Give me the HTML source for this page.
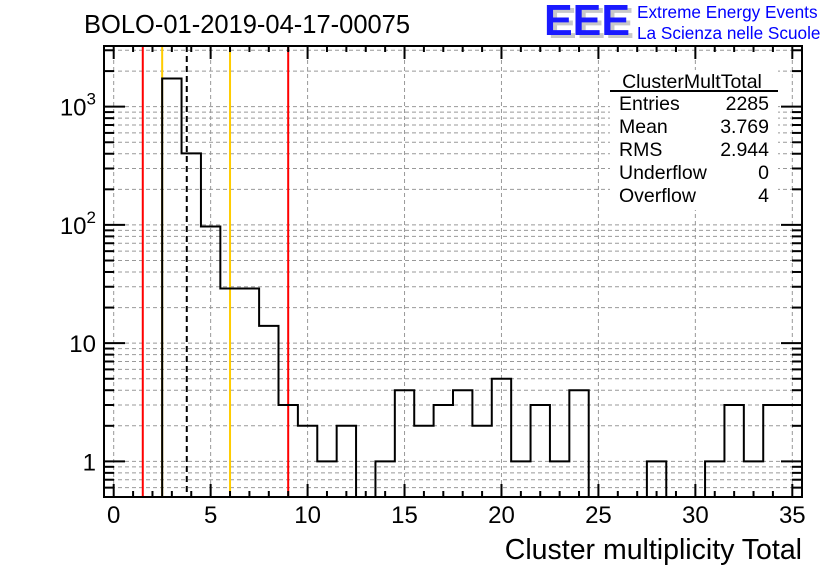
<!DOCTYPE html>
<html><head><meta charset="utf-8"><style>
html,body{margin:0;padding:0;background:#fff;}
svg{display:block;font-family:"Liberation Sans",sans-serif;}
</style></head><body>
<svg id="chart" width="836" height="572" viewBox="0 0 836 572">
<rect width="836" height="572" fill="#fff"/>
<g id="grid"></g>
<g id="vlines"></g>
<g id="hist"></g>
<g id="axes"></g>
<text x="84" y="33" font-size="25.5">BOLO-01-2019-04-17-00075</text>
<g>
<text x="548" y="38" font-size="44" font-weight="bold" fill="#c8c8c8" textLength="86" lengthAdjust="spacingAndGlyphs">EEE</text>
<text x="544" y="35" font-size="44" font-weight="bold" fill="#1a1aff" textLength="86" lengthAdjust="spacingAndGlyphs">EEE</text>
<text x="637" y="18" font-size="17.2" fill="#0000ff">Extreme Energy Events</text>
<text x="637" y="39" font-size="17.2" fill="#0000ff">La Scienza nelle Scuole</text>
</g>
<g font-size="19.5">
<rect x="610" y="70" width="168" height="140" fill="#fff"/>
<text x="692" y="88" text-anchor="middle">ClusterMultTotal</text>
<line x1="610" y1="91" x2="778" y2="91" stroke="#000" stroke-width="2"/>
<text x="619" y="110">Entries</text><text x="769" y="110" text-anchor="end">2285</text>
<text x="619" y="133">Mean</text><text x="769" y="133" text-anchor="end">3.769</text>
<text x="619" y="156">RMS</text><text x="769" y="156" text-anchor="end">2.944</text>
<text x="619" y="179">Underflow</text><text x="769" y="179" text-anchor="end">0</text>
<text x="619" y="202">Overflow</text><text x="769" y="202" text-anchor="end">4</text>
</g>
<text x="802" y="559" font-size="28.5" text-anchor="end">Cluster multiplicity Total</text>
</svg>
<script>
const binCenters = [0,1,2,3,4,5,6,7,8,9,10,11,12,13,14,15,16,17,18,19,20,21,22,23,24,25,26,27,28,29,30,31,32,33,34,35];
const counts = [0,0,0,1730,403,97,29,29,14,3,2,1,2,0,1,4,2,3,4,2,5,1,3,1,4,0,0,0,1,0,0,1,3,1,3,3];
const xTicks = [0,5,10,15,20,25,30,35];
const yDecades = [1,10,100,1000];
const yDecadeLabels = ["1","10","10^2","10^3"];
const redLines = [1.5,9];
const yellowLines = [2.5,6];
const meanValue = 3.769;

const L=104,R=802,T=46,B=497;
const xMin=-0.5,xMax=35.5,yMin=0.5,yMax=3260;
const NS="http://www.w3.org/2000/svg";
function X(v){return L+(v-xMin)/(xMax-xMin)*(R-L);}
function Y(v){const lv=Math.log10(Math.max(v,yMin));return B-(lv-Math.log10(yMin))/(Math.log10(yMax)-Math.log10(yMin))*(B-T);}
function mk(tag,attrs,parent){const e=document.createElementNS(NS,tag);for(const k in attrs)e.setAttribute(k,attrs[k]);parent.appendChild(e);return e;}
const grid=document.getElementById('grid'),vl=document.getElementById('vlines'),hist=document.getElementById('hist'),axes=document.getElementById('axes');

const yMinor=[];
for(let d=0.1;d<=1000;d*=10){for(let m=1;m<=9;m++){const v=Math.round(d*m*1000)/1000;if(v>=yMin&&v<=yMax)yMinor.push(v);}}
yMinor.forEach(v=>{
  const l=mk('line',{x1:L,x2:R,y1:Y(v),y2:Y(v),stroke:'#999','stroke-dasharray':'4,3','stroke-width':1},grid);
  
  
});
xTicks.forEach(v=>{
  const l=mk('line',{x1:X(v),x2:X(v),y1:T,y2:B,stroke:'#999','stroke-dasharray':'4,3','stroke-width':1},grid);
  
  
});

redLines.forEach(v=>{
  const l=mk('line',{x1:X(v),x2:X(v),y1:T,y2:B,stroke:'#ff0000','stroke-width':2},vl);
  
  
});
yellowLines.forEach(v=>{
  const l=mk('line',{x1:X(v),x2:X(v),y1:T,y2:B,stroke:'#ffcc00','stroke-width':2},vl);
  
  
});
const ml=mk('line',{x1:X(meanValue),x2:X(meanValue),y1:T,y2:B,stroke:'#000','stroke-width':2,'stroke-dasharray':'6,4'},vl);



let d='';
binCenters.forEach((c,i)=>{
  const x0=X(c-0.5),x1=Math.min(X(c+0.5),R);
  const y=counts[i]>0?Y(counts[i]):B;
  if(i===0)d+='M'+x0+' '+y;else d+=' L'+x0+' '+y;
  d+=' L'+x1+' '+y;
});
const hp=mk('path',{d:d,fill:'none',stroke:'#000','stroke-width':2},hist);



const fr=mk('rect',{x:L,y:T,width:R-L,height:B-T,fill:'none',stroke:'#000','stroke-width':2},axes);


for(let v=0;v<=35;v++){
  const major=v%5===0,len=major?13:6;
  [[B,B-len],[T,T+len]].forEach(p=>{
    const t=mk('line',{x1:X(v),x2:X(v),y1:p[0],y2:p[1],stroke:'#000','stroke-width':2},axes);
    
    
  });
}
xTicks.forEach(v=>{
  const t=mk('text',{x:X(v),y:523,'font-size':24,'text-anchor':'middle'},axes);
  t.textContent=v;
  
  
});
yMinor.forEach(v=>{
  const major=yDecades.includes(v),len=major?21:10;
  [[L,L+len],[R,R-len]].forEach(p=>{
    const t=mk('line',{x1:p[0],x2:p[1],y1:Y(v),y2:Y(v),stroke:'#000','stroke-width':2},axes);
    
    
  });
});
yDecades.forEach((v,i)=>{
  const lab=yDecadeLabels[i];
  const t=mk('text',{x:96,y:Y(v)+9,'font-size':24,'text-anchor':'end'},axes);
  
  
  if(lab.indexOf('^')>0){
    const parts=lab.split('^');
    const a=mk('tspan',{},t);a.textContent=parts[0];
    const b=mk('tspan',{dy:-11,'font-size':17},t);b.textContent=parts[1];
  } else t.textContent=lab;
});
</script>
</body></html>
